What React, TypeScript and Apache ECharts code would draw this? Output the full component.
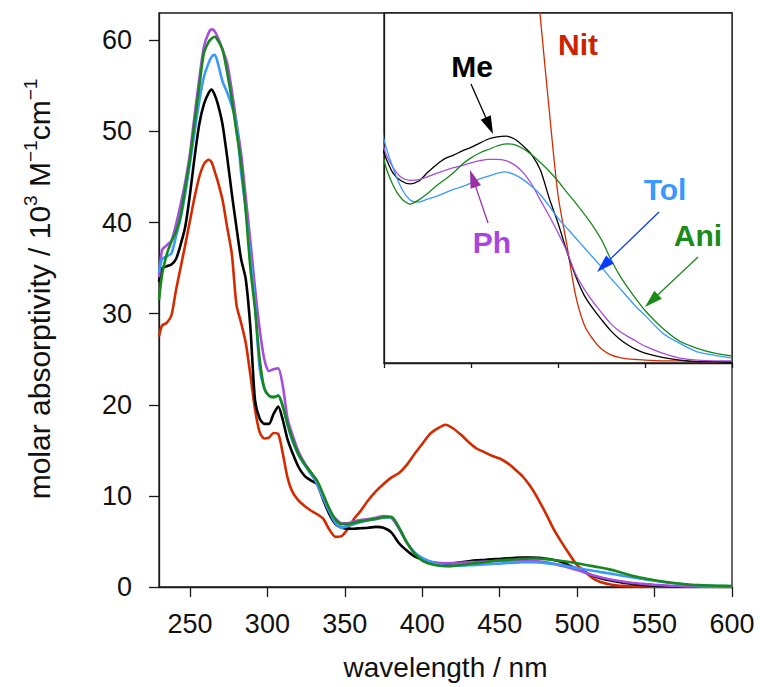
import React, { useEffect, useRef } from 'react';
import * as echarts from 'echarts';

// wavelength grid (nm)
const wavelengths = [
  230, 232, 235, 238, 241, 244, 247, 250, 253, 256,
  259, 262, 264, 266, 268, 271, 274, 277, 280, 283,
  286, 289, 292, 295, 298, 301, 304, 307, 310, 313,
  316, 320, 324, 328, 332, 336, 340, 344, 348, 352,
  356, 360, 365, 370, 375, 380, 385, 390, 395, 400,
  405, 410, 415, 420, 425, 430, 435, 440, 445, 450,
  455, 460, 465, 470, 475, 480, 485, 490, 495, 500,
  505, 510, 515, 520, 525, 530, 535, 540, 545, 550,
  560, 570, 580, 590, 600,
];

// molar absorptivity / 10^3 M^-1 cm^-1
const nit = [
  27.5, 28.7, 29.0, 29.8, 32.6, 35.1, 37.6, 40.2, 42.8, 45.0,
  46.4, 46.9, 46.6, 45.6, 44.5, 42.5, 39.5, 36.6, 31.0, 29.0,
  26.8, 23.3, 19.5, 17.0, 16.3, 16.4, 16.9, 16.8, 14.6, 12.0,
  10.5, 9.5, 8.9, 8.4, 8.0, 7.5, 6.3, 5.5, 5.6, 6.4,
  7.5, 8.3, 9.5, 10.5, 11.3, 12.0, 12.5, 13.4, 14.6, 15.7,
  16.8, 17.4, 17.8, 17.4, 16.7, 15.9, 15.2, 14.8, 14.4, 14.1,
  13.6, 12.9, 12.1, 11.0, 9.6, 8.0, 6.3, 4.9, 3.6, 2.4,
  1.7, 0.98, 0.55, 0.34, 0.2, 0.12, 0.08, 0.06, 0.05, 0.04,
  0.03, 0.03, 0.02, 0.02, 0.02,
];
const me = [
  33.5, 35.0, 35.2, 35.4, 36.0, 37.6, 39.6, 43.1, 47.2, 50.8,
  53.0, 54.2, 54.6, 54.0, 53.0, 50.8, 47.2, 43.2, 39.5, 36.0,
  33.8, 28.5, 20.5, 18.5, 17.9, 17.9, 19.0, 19.8, 18.3, 16.2,
  14.8, 13.2, 12.2, 11.7, 11.3, 9.6, 8.0, 6.9, 6.5, 6.4,
  6.4, 6.45, 6.5, 6.6, 6.5, 6.0, 4.8, 4.0, 3.35, 3.0,
  2.72, 2.6, 2.56, 2.6, 2.72, 2.83, 2.92, 2.97, 3.03, 3.08,
  3.14, 3.2, 3.23, 3.24, 3.2, 3.1, 2.97, 2.75, 2.35, 2.0,
  1.6, 1.25, 0.97, 0.78, 0.62, 0.47, 0.35, 0.26, 0.19, 0.14,
  0.08, 0.04, 0.02, 0.02, 0.01,
];
const ph = [
  34.0, 37.0, 37.5, 38.0, 39.8, 42.0, 44.5, 47.6, 51.8, 55.8,
  59.3, 60.8, 61.2, 61.0, 60.3, 59.0, 57.5, 54.5, 51.0, 47.6,
  42.8, 38.0, 32.8, 28.3, 25.0, 23.7, 23.9, 24.0, 22.0, 18.5,
  16.8, 14.9, 13.6, 12.6, 11.3, 9.8, 8.3, 7.5, 7.0, 7.0,
  7.2, 7.35, 7.45, 7.6, 7.8, 7.6, 6.4, 4.9, 3.7, 3.07,
  2.8, 2.65, 2.61, 2.62, 2.66, 2.71, 2.75, 2.79, 2.82, 2.86,
  2.89, 2.91, 2.91, 2.89, 2.83, 2.72, 2.55, 2.32, 2.1, 1.86,
  1.6, 1.28, 1.06, 0.88, 0.72, 0.57, 0.46, 0.38, 0.31, 0.24,
  0.14, 0.07, 0.04, 0.03, 0.03,
];
const tol = [
  34.5, 36.0, 36.3, 36.6, 38.5, 40.5, 43.2, 46.5, 50.0, 53.3,
  56.0, 57.5, 58.2, 58.4, 57.5, 55.5, 54.3, 52.8, 51.0, 45.5,
  41.5, 36.3, 31.0, 24.0, 21.8, 21.0, 20.9, 21.0, 19.8, 17.8,
  16.1, 14.5, 13.4, 12.4, 11.4, 9.8, 8.3, 7.0, 6.5, 6.7,
  6.9, 7.1, 7.3, 7.45, 7.6, 7.65, 6.5, 4.9, 3.8, 3.19,
  2.8, 2.5, 2.33, 2.3, 2.34, 2.38, 2.43, 2.48, 2.52, 2.57,
  2.63, 2.67, 2.71, 2.73, 2.69, 2.62, 2.52, 2.4, 2.24, 2.07,
  1.93, 1.79, 1.65, 1.51, 1.37, 1.22, 1.08, 0.94, 0.8, 0.68,
  0.43, 0.28, 0.16, 0.11, 0.07,
];
const ani = [
  31.5, 34.3, 36.5, 37.9, 39.0, 40.8, 43.9, 47.0, 51.0, 54.9,
  58.6, 59.8, 60.2, 60.4, 60.0, 59.0, 56.5, 53.5, 50.0, 46.5,
  41.3, 35.0, 30.5, 25.0, 21.8, 21.0, 20.8, 21.0, 19.8, 17.9,
  16.3, 14.6, 13.5, 12.6, 11.7, 10.2, 8.6, 7.4, 6.9, 6.9,
  7.05, 7.2, 7.35, 7.5, 7.65, 7.7, 6.5, 4.9, 3.7, 2.9,
  2.55, 2.35, 2.27, 2.33, 2.42, 2.53, 2.62, 2.72, 2.84, 2.93,
  3.0, 3.05, 3.1, 3.13, 3.12, 3.06, 2.97, 2.86, 2.74, 2.6,
  2.44, 2.29, 2.13, 1.96, 1.76, 1.5, 1.27, 1.08, 0.91, 0.75,
  0.5, 0.31, 0.21, 0.14, 0.1,
];

const xTicks = [250, 300, 350, 400, 450, 500, 550, 600];
const yTicks = [0, 10, 20, 30, 40, 50, 60];
const insetXTicks = [400, 450, 500, 550, 600];

const seriesNames = ['Nit', 'Me', 'Ph', 'Tol', 'Ani'];
const seriesValues = [nit, me, ph, tol, ani];
const seriesColors = ['#d42a00', '#000000', '#a64ddf', '#3a98ff', '#17891b'];

const FONT = '"Liberation Sans", Arial, Helvetica, sans-serif';
const AXIS_COLOR = '#1a1a1a';

function arrow(x1: number, y1: number, x2: number, y2: number, color: string, headLen = 18, headW = 11) {
  const dx = x2 - x1;
  const dy = y2 - y1;
  const L = Math.hypot(dx, dy);
  const ux = dx / L;
  const uy = dy / L;
  const bx = x2 - ux * headLen;
  const by = y2 - uy * headLen;
  const px = -uy;
  const py = ux;
  return [
    { type: 'line', z: 100, shape: { x1, y1, x2: bx + ux * 2, y2: by + uy * 2 }, style: { stroke: color, lineWidth: 1.3 } },
    {
      type: 'polygon', z: 100,
      shape: { points: [[x2, y2], [bx + (px * headW) / 2, by + (py * headW) / 2], [bx - (px * headW) / 2, by - (py * headW) / 2]] },
      style: { fill: color },
    },
  ];
}

function label(text: string, x: number, y: number, color: string) {
  return {
    type: 'text', z: 100, x, y,
    style: { text, fill: color, fontSize: 30, fontWeight: 'bold', fontFamily: FONT, align: 'center', verticalAlign: 'middle' },
  };
}

export default function App() {
  const ref = useRef<HTMLDivElement>(null);
  useEffect(() => {
    if (!ref.current) return;
    const chart = echarts.init(ref.current, undefined, { renderer: 'svg' });
    const pairs = (vals: number[]) => wavelengths.map((w, i) => [w, vals[i]]);
    const mainSeries = seriesNames.map((n, i) => ({
      name: n, type: 'line', xAxisIndex: 0, yAxisIndex: 0, data: pairs(seriesValues[i]),
      showSymbol: false, symbol: 'none', smooth: 0.25, clip: true, z: 2,
      lineStyle: { color: seriesColors[i], width: 2.6 },
    }));
    const insetSeries = seriesNames.map((n, i) => ({
      name: n + ' inset', type: 'line', xAxisIndex: 1, yAxisIndex: 1, data: pairs(seriesValues[i]),
      showSymbol: false, symbol: 'none', smooth: 0.25, clip: true, z: 7,
      lineStyle: { color: seriesColors[i], width: 1.3 },
    }));
    const axisLine = { show: true, onZero: false, lineStyle: { color: AXIS_COLOR, width: 1.3 } };
    chart.setOption({
      animation: false,
      backgroundColor: '#ffffff',
      textStyle: { fontFamily: FONT },
      grid: [
        { left: 159, top: 13, width: 573, height: 574, show: true, borderColor: AXIS_COLOR, borderWidth: 1.3, backgroundColor: 'transparent' },
        { left: 384, top: 13, width: 348, height: 350, show: true, borderColor: AXIS_COLOR, borderWidth: 1.3, backgroundColor: '#ffffff', z: 5 },
      ],
      xAxis: [
        {
          type: 'value', gridIndex: 0, min: 230, max: 600,
          splitLine: { show: false }, axisLine,
          axisTick: { show: true, length: 10, customValues: xTicks, lineStyle: { color: AXIS_COLOR, width: 1.3 } },
          axisLabel: { customValues: xTicks, fontSize: 27, color: '#111', margin: 23, fontFamily: FONT },
          name: 'wavelength / nm', nameLocation: 'middle', nameGap: 66,
          nameTextStyle: { fontSize: 28, color: '#111', fontFamily: FONT },
        },
        {
          type: 'value', gridIndex: 1, min: 400, max: 600, interval: 50, z: 6,
          splitLine: { show: false }, axisLine,
          axisTick: { show: true, length: 5, customValues: insetXTicks, lineStyle: { color: AXIS_COLOR, width: 1.3 } },
          axisLabel: { show: false },
        },
      ],
      yAxis: [
        {
          type: 'value', gridIndex: 0, min: 0, max: 63,
          splitLine: { show: false }, axisLine,
          axisTick: { show: true, length: 10, customValues: yTicks, lineStyle: { color: AXIS_COLOR, width: 1.3 } },
          axisLabel: { customValues: yTicks, fontSize: 27, color: '#111', margin: 27, fontFamily: FONT },
          name: '{a|molar absorptivity / 10}{s|3}{a| M}{s|−1}{a|cm}{s|−1}',
          nameLocation: 'middle', nameRotate: 90, nameGap: 102,
          nameTextStyle: {
            color: '#111', fontFamily: FONT, padding: [0, 0, 0, 22],
            rich: {
              a: { fontSize: 30, fontFamily: FONT, color: '#111', lineHeight: 36 },
              s: { fontSize: 19, fontFamily: FONT, color: '#111', lineHeight: 19, verticalAlign: 'top' },
            },
          },
        },
        {
          type: 'value', gridIndex: 1, min: 0, max: 5, z: 6,
          splitLine: { show: false }, axisLine,
          axisTick: { show: false }, axisLabel: { show: false },
        },
      ],
      series: [...mainSeries, ...insetSeries],
      graphic: [
        label('Nit', 578, 44, '#cc2200'),
        label('Me', 472, 66, '#000000'),
        label('Ph', 492, 242, '#a845dc'),
        label('Tol', 665, 189, '#3a98ff'),
        label('Ani', 698, 235, '#1a8a1a'),
        ...arrow(471, 84, 493, 134, '#000000'),
        ...arrow(488, 223, 470, 170, '#9b2fa8'),
        ...arrow(659, 212, 597, 272, '#0a3cff'),
        ...arrow(698, 257, 645, 307, '#1a8a1a'),
      ],
    });
    return () => chart.dispose();
  }, []);
  return <div ref={ref} style={{ position: 'fixed', left: 0, top: 0, width: 760, height: 687, background: '#fff' }} />;
}
